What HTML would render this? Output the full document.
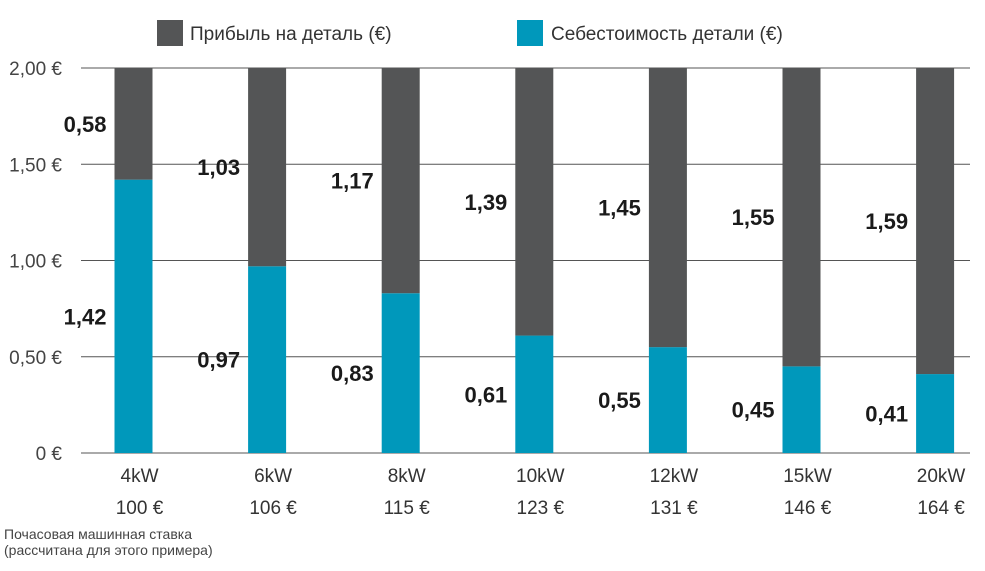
<!DOCTYPE html>
<html><head><meta charset="utf-8"><style>
body{margin:0;background:#fff;font-family:"Liberation Sans",sans-serif;}
svg text{font-family:"Liberation Sans",sans-serif;}
</style></head><body>
<svg id="chart" width="985" height="566">
<g>
 <rect x="157" y="20" width="26" height="26" fill="#545556"/>
 <text x="190" y="40" font-size="19" fill="#333">Прибыль на деталь (€)</text>
 <rect x="517" y="20" width="26" height="26" fill="#0098bb"/>
 <text x="551" y="40" font-size="19" fill="#333">Себестоимость детали (€)</text>
</g>
<g id="grid"></g><g id="bars"></g><g id="labels"></g>
<text x="4" y="539" font-size="14" fill="#444">Почасовая машинная ставка</text>
<text x="4" y="555" font-size="14" fill="#444">(рассчитана для этого примера)</text>
</svg>
<script>
const categories=["4kW","6kW","8kW","10kW","12kW","15kW","20kW"];
const rates=["100 €","106 €","115 €","123 €","131 €","146 €","164 €"];
const cost=[1.42,0.97,0.83,0.61,0.55,0.45,0.41];
const profit=[0.58,1.03,1.17,1.39,1.45,1.55,1.59];
const yTicks=[0,0.5,1,1.5,2];
const yTickLabels=["0 €","0,50 €","1,00 €","1,50 €","2,00 €"];
const NS="http://www.w3.org/2000/svg";
const y=v=>453-v*192.5;
const xc=i=>133.5+i*133.6;
const bw=38;
function mk(t,a,p){const e=document.createElementNS(NS,t);for(const k in a)e.setAttribute(k,a[k]);p.appendChild(e);return e;}
const grid=document.getElementById('grid'),bars=document.getElementById('bars'),labels=document.getElementById('labels');
yTicks.forEach((v,i)=>{
 const l=mk('line',{x1:81,x2:970,y1:y(v),y2:y(v),stroke:'#555','stroke-width':1},grid);
 
 
 const t=mk('text',{x:62,y:y(v)+7,'font-size':19,fill:'#444','text-anchor':'end'},grid);
 t.textContent=yTickLabels[i];
 
 
});
const fmt=v=>v.toFixed(2).replace('.',',');
categories.forEach((c,i)=>{
 const x=xc(i)-bw/2;
 const rc=mk('rect',{x:x,y:y(cost[i]),width:bw,height:y(0)-y(cost[i]),fill:'#0098bb'},bars);
 
 
 const rp=mk('rect',{x:x,y:y(cost[i]+profit[i]),width:bw,height:y(cost[i])-y(cost[i]+profit[i]),fill:'#545556'},bars);
 
 
 const tp=mk('text',{x:x-8,y:(y(cost[i]+profit[i])+y(cost[i]))/2+8,'font-size':22,'font-weight':'bold',fill:'#1a1a1a','text-anchor':'end'},labels);
 tp.textContent=fmt(profit[i]);
 
 
 const tc=mk('text',{x:x-8,y:(y(cost[i])+y(0))/2+8,'font-size':22,'font-weight':'bold',fill:'#1a1a1a','text-anchor':'end'},labels);
 tc.textContent=fmt(cost[i]);
 
 
 const tx=mk('text',{x:xc(i)+6,y:482,'font-size':19,fill:'#333','text-anchor':'middle'},labels);
 tx.textContent=c;
 
 
 const tr=mk('text',{x:xc(i)+6,y:514,'font-size':19,fill:'#333','text-anchor':'middle'},labels);
 tr.textContent=rates[i];
 
 
});
</script>
</body></html>
